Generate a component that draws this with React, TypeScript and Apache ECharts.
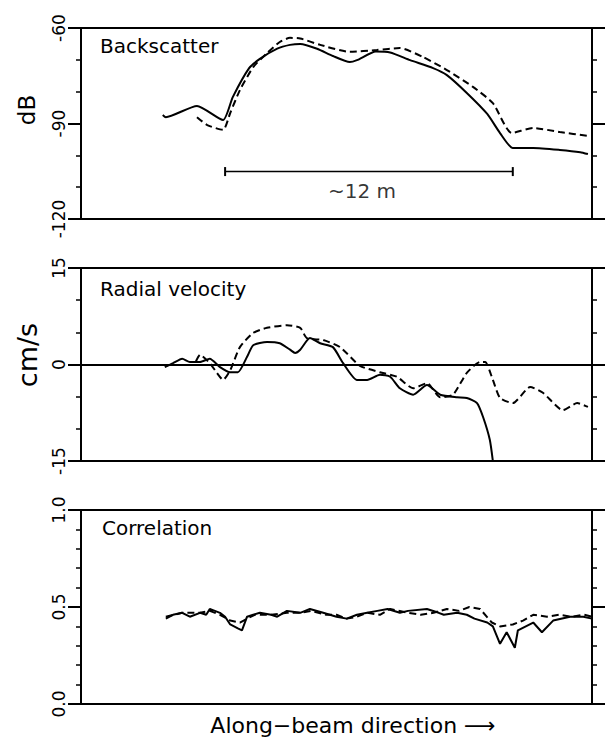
import React, { useEffect, useRef } from "react";
import * as echarts from "echarts";

// ---- Data (x: along-beam position 0..100, arbitrary units) ----
const backscatterSolid: number[][] = [
  [16.0, -87.3], [16.6, -88.0], [22.7, -84.5], [27.8, -88.9], [29.7, -81.7],
  [32.9, -72.6], [35.0, -69.7], [38.4, -66.5], [40.9, -65.3], [42.9, -65.0],
  [46.2, -66.5], [49.3, -68.8], [52.6, -70.7], [54.0, -70.1], [57.7, -67.4],
  [60.5, -67.7], [64.4, -70.1], [68.9, -72.6], [71.6, -74.8], [75.5, -80.4],
  [79.5, -87.0], [82.0, -93.0], [84.5, -97.7], [88.5, -97.7], [93.7, -98.3],
  [97.7, -99.0], [99.2, -99.6],
];
const backscatterDashed: number[][] = [
  [22.7, -88.0], [24.7, -90.5], [27.8, -92.0], [29.2, -86.7], [31.1, -79.5],
  [33.7, -72.3], [36.4, -67.9], [38.9, -64.4], [40.9, -63.1], [42.9, -63.3],
  [46.8, -65.3], [52.6, -67.5], [57.9, -66.9], [62.4, -66.3], [66.9, -69.1],
  [71.6, -73.2], [76.7, -78.5], [80.6, -83.6], [84.3, -93.0], [88.5, -91.4],
  [93.7, -92.7], [99.2, -93.9],
];
const velocitySolid: number[][] = [
  [16.4, -0.4], [18.0, 0.2], [19.8, 0.9], [21.3, 0.4], [23.3, 0.4], [25.2, 0.9],
  [27.2, -0.4], [29.2, -1.2], [30.7, -1.2], [32.5, 1.2], [33.7, 3.0], [36.4, 3.5],
  [38.9, 3.3], [40.9, 2.3], [41.9, 1.8], [42.9, 2.3], [44.8, 4.1], [46.8, 3.3],
  [49.3, 2.7], [51.3, 0.2], [54.0, -2.4], [56.0, -2.4], [58.5, -1.6], [60.5, -1.9],
  [62.4, -3.7], [65.0, -4.7], [67.7, -3.2], [70.3, -4.7], [73.6, -5.1], [75.5, -5.2],
  [77.5, -6.0], [78.7, -8.2], [80.0, -11.7], [80.6, -15.0],
];
const velocityDashed: number[][] = [
  [22.5, 0.5], [23.3, 1.5], [25.2, 0.2], [26.6, -1.3], [27.8, -2.4], [29.2, -0.9],
  [31.1, 2.7], [33.7, 4.9], [36.4, 5.7], [40.3, 6.1], [42.9, 5.7], [44.2, 4.1],
  [47.4, 3.8], [50.7, 2.7], [54.6, -0.2], [58.5, -1.2], [61.8, -1.9], [65.0, -3.7],
  [67.7, -2.9], [70.3, -5.1], [72.8, -4.7], [75.5, -1.3], [78.1, 0.4], [79.1, 0.4],
  [80.6, -2.4], [82.0, -5.2], [84.5, -6.0], [87.9, -3.5], [90.4, -4.4], [94.3, -7.1],
  [97.1, -6.0], [99.2, -6.6],
];
const correlationSolid: number[][] = [
  [16.6, 0.44], [18.0, 0.46], [19.8, 0.47], [21.3, 0.45], [23.3, 0.47], [24.5, 0.46],
  [25.2, 0.49], [26.2, 0.48], [27.2, 0.47], [28.2, 0.45], [29.2, 0.41], [30.7, 0.39],
  [31.5, 0.38], [32.5, 0.45], [33.7, 0.46], [35.0, 0.47], [37.2, 0.46], [38.4, 0.45],
  [40.3, 0.48], [42.9, 0.47], [44.8, 0.49], [47.4, 0.47], [50.0, 0.45], [52.0, 0.44],
  [54.0, 0.46], [56.0, 0.47], [58.0, 0.48], [60.0, 0.49], [62.4, 0.47], [64.0, 0.48],
  [67.7, 0.49], [70.0, 0.47], [71.0, 0.46], [73.6, 0.47], [75.5, 0.46], [77.0, 0.44],
  [79.5, 0.42], [80.6, 0.40], [82.0, 0.31], [83.3, 0.37], [84.9, 0.29], [85.5, 0.38],
  [88.5, 0.42], [90.2, 0.37], [92.4, 0.43], [95.7, 0.45], [98.3, 0.45], [100, 0.44],
];
const correlationDashed: number[][] = [
  [16.6, 0.45], [19.8, 0.47], [23.3, 0.47], [25.2, 0.48], [27.2, 0.46], [29.2, 0.43],
  [31.1, 0.42], [32.5, 0.44], [34.0, 0.46], [37.2, 0.46], [40.3, 0.47], [42.9, 0.47],
  [45.0, 0.48], [48.0, 0.46], [50.0, 0.46], [52.0, 0.44], [54.0, 0.45], [56.0, 0.47],
  [58.5, 0.46], [60.5, 0.49], [64.0, 0.47], [66.5, 0.46], [69.0, 0.47], [71.6, 0.49],
  [74.0, 0.48], [76.0, 0.50], [78.1, 0.49], [80.4, 0.42], [82.0, 0.40], [84.5, 0.41],
  [86.5, 0.43], [88.5, 0.46], [91.2, 0.45], [93.5, 0.46], [96.0, 0.45], [98.5, 0.46],
  [100, 0.45],
];
const scaleBar: number[][] = [[28.2, -105.1], [84.5, -105.1]];
const scaleLabel: number[][] = [[55.0, -111.2]];
const scaleText = "~12 m";

const backscatterRange = [-120, -60, 30];
const velocityRange = [-15, 15, 15];
const correlationRange = [0, 1, 0.5];

const panelTitles = ["Backscatter", "Radial velocity", "Correlation"];
const axisNames = ["dB", "cm/s"];
const xTitle = "Along\u2212beam direction \u27F6";

const FONT = "DejaVu Sans";
const BLACK = "#000";

function xAxesFor(i: number) {
  const base = {
    type: "value",
    gridIndex: i,
    min: 0,
    max: 100,
    axisLine: { show: true, onZero: false, lineStyle: { color: BLACK, width: 2 } },
    axisTick: { show: false },
    axisLabel: { show: false },
    splitLine: { show: false },
  };
  return [
    { ...base, position: "bottom" },
    { ...base, position: "top" },
  ];
}

function yAxesFor(
  i: number,
  range: number[],
  minorSplit: number,
  fmt: (v: number) => string,
  zeroLine: boolean
) {
  const base = {
    type: "value",
    gridIndex: i,
    min: range[0],
    max: range[1],
    interval: range[2],
    axisLine: { show: true, onZero: false, lineStyle: { color: BLACK, width: 2 } },
    axisTick: { show: true, inside: false, length: 13, lineStyle: { color: BLACK, width: 2 } },
    minorTick: { show: true, splitNumber: minorSplit, length: 5, lineStyle: { color: BLACK, width: 1.5 } },
    minorSplitLine: { show: false },
  };
  return [
    {
      ...base,
      position: "left",
      axisLabel: {
        show: true,
        rotate: 90,
        margin: 14,
        color: BLACK,
        fontFamily: FONT,
        fontSize: 17,
        formatter: fmt,
        showMinLabel: true,
        showMaxLabel: true,
      },
      splitLine: { show: zeroLine, lineStyle: { color: BLACK, width: 2 } },
    },
    {
      ...base,
      position: "right",
      axisLabel: { show: false },
      splitLine: { show: false },
    },
  ];
}

function lineSeries(i: number, data: number[][], dashed: boolean, smooth: number) {
  return {
    type: "line",
    xAxisIndex: 2 * i,
    yAxisIndex: 2 * i,
    data,
    symbol: "none",
    smooth,
    clip: true,
    z: dashed ? 2 : 3,
    lineStyle: { color: BLACK, width: 2, type: dashed ? [7, 4] : "solid" },
  };
}

export default function App() {
  const ref = useRef<HTMLDivElement>(null);
  useEffect(() => {
    if (!ref.current) return;
    const chart = echarts.init(ref.current, undefined, { renderer: "svg" });
    const intFmt = (v: number) => String(Math.round(v));
    const decFmt = (v: number) => v.toFixed(1);
    const option = {
      animation: false,
      backgroundColor: "#fff",
      grid: [
        { left: 81, right: 13, top: 28, height: 191 },
        { left: 81, right: 13, top: 268, height: 193 },
        { left: 81, right: 13, top: 510, height: 194 },
      ],
      xAxis: [...xAxesFor(0), ...xAxesFor(1), ...xAxesFor(2)],
      yAxis: [
        ...yAxesFor(0, backscatterRange, 3, intFmt, false),
        ...yAxesFor(1, velocityRange, 3, intFmt, true),
        ...yAxesFor(2, correlationRange, 5, decFmt, false),
      ],
      series: [
        lineSeries(0, backscatterDashed, true, 0.2),
        lineSeries(0, backscatterSolid, false, 0.2),
        lineSeries(1, velocityDashed, true, 0.2),
        lineSeries(1, velocitySolid, false, 0.2),
        lineSeries(2, correlationDashed, true, 0),
        lineSeries(2, correlationSolid, false, 0),
        {
          type: "line",
          xAxisIndex: 0,
          yAxisIndex: 0,
          data: scaleBar,
          symbol: "rect",
          symbolSize: [2, 9],
          itemStyle: { color: BLACK },
          lineStyle: { color: BLACK, width: 1.5 },
        },
        {
          type: "scatter",
          xAxisIndex: 0,
          yAxisIndex: 0,
          data: scaleLabel,
          symbolSize: 0,
          label: {
            show: true,
            position: "inside",
            formatter: scaleText,
            color: BLACK,
            fontFamily: FONT,
            fontSize: 20,
          },
        },
      ],
      graphic: [
        { type: "text", x: 100, y: 46, style: { text: panelTitles[0], fill: BLACK, fontFamily: FONT, fontSize: 20, align: "left", verticalAlign: "middle" } },
        { type: "text", x: 100, y: 289, style: { text: panelTitles[1], fill: BLACK, fontFamily: FONT, fontSize: 20, align: "left", verticalAlign: "middle" } },
        { type: "text", x: 102, y: 528, style: { text: panelTitles[2], fill: BLACK, fontFamily: FONT, fontSize: 20, align: "left", verticalAlign: "middle" } },
        { type: "text", x: 27, y: 110, rotation: Math.PI / 2, style: { text: axisNames[0], fill: BLACK, fontFamily: FONT, fontSize: 23, align: "center", verticalAlign: "middle" } },
        { type: "text", x: 27, y: 355, rotation: Math.PI / 2, style: { text: axisNames[1], fill: BLACK, fontFamily: FONT, fontSize: 27, align: "center", verticalAlign: "middle" } },
        { type: "text", x: 353, y: 725, style: { text: xTitle, fill: BLACK, fontFamily: FONT, fontSize: 22, align: "center", verticalAlign: "middle" } },
      ],
    };
    chart.setOption(option as any);
    return () => chart.dispose();
  }, []);
  return (
    <div
      ref={ref}
      style={{ position: "absolute", left: 0, top: 0, width: 605, height: 739, background: "#fff" }}
    />
  );
}
